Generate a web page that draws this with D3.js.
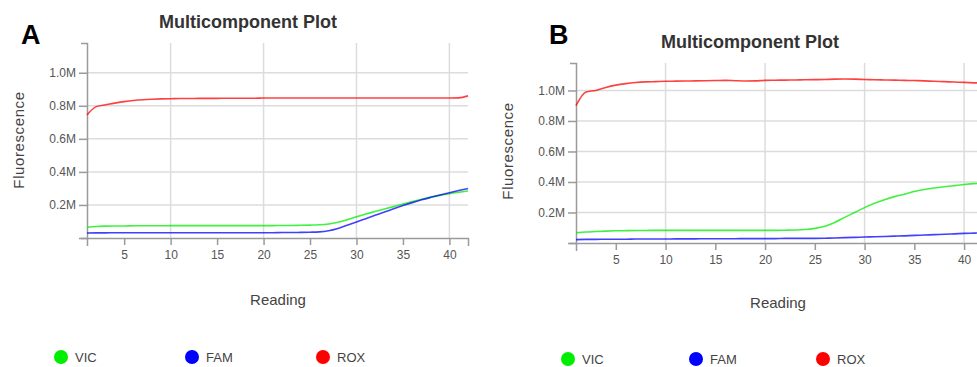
<!DOCTYPE html>
<html>
<head>
<meta charset="utf-8">
<script src="https://cdn.jsdelivr.net/npm/d3@7"></script>
<style>
  body { margin: 0; background: #fff; }
  svg { font-family: "Liberation Sans", Arial, sans-serif; }
  .grid line { stroke: #dcdcdc; stroke-width: 1.5; }
  .axis path, .axis line { stroke: #9a9a9a; stroke-width: 1.5; }
  .axis text { fill: #555; font-size: 12px; }
  .axisLabel { fill: #444; font-size: 15px; }
  .title { fill: #333; font-size: 18px; font-weight: bold; }
  .panelLetter { fill: #000; font-size: 27px; font-weight: bold; }
  .legend text { fill: #444; font-size: 13px; }
</style>
</head>
<body>
<div id="chart"></div>
<script>

// DATA

const readings = d3.range(1, 43);   // reading 1 .. 42
const dyes = ["VIC", "FAM", "ROX"];
const dyeColors = ["#00ee00", "#0000ff", "#ff0000"];
const yTicks = [0, 200000, 400000, 600000, 800000, 1000000];
const xTicks = [5, 10, 15, 20, 25, 30, 35, 40];
const xGrid = [10, 20, 30, 40];

// panel A
const vicA = [0.065,0.070,0.072,0.073,0.073,0.074,0.074,0.074,0.074,0.075,0.075,0.075,0.075,0.075,0.075,0.075,0.075,0.075,0.075,0.075,
              0.075,0.076,0.076,0.077,0.078,0.080,0.085,0.095,0.110,0.128,0.145,0.160,0.175,0.190,0.205,0.220,0.235,0.248,0.258,0.268,0.277,0.284];
const famA = [0.030,0.031,0.031,0.032,0.032,0.032,0.032,0.032,0.032,0.032,0.032,0.032,0.032,0.032,0.032,0.032,0.032,0.032,0.032,0.032,
              0.032,0.033,0.033,0.034,0.035,0.037,0.044,0.058,0.077,0.097,0.117,0.137,0.157,0.177,0.196,0.214,0.231,0.246,0.260,0.274,0.287,0.299];
const roxA = [0.745,0.795,0.806,0.816,0.825,0.832,0.837,0.840,0.842,0.843,0.844,0.844,0.845,0.845,0.845,0.846,0.846,0.846,0.846,0.847,
              0.847,0.847,0.847,0.847,0.847,0.847,0.847,0.847,0.847,0.847,0.847,0.847,0.847,0.847,0.847,0.847,0.847,0.847,0.847,0.847,0.848,0.860];

// panel B
const vicB = [0.067,0.072,0.075,0.078,0.080,0.081,0.082,0.082,0.083,0.083,0.083,0.083,0.083,0.083,0.083,0.083,0.083,0.083,0.083,0.083,
              0.083,0.084,0.085,0.088,0.096,0.110,0.135,0.168,0.200,0.232,0.260,0.284,0.304,0.320,0.338,0.351,0.361,0.369,0.376,0.383,0.389,0.393];
const famB = [0.022,0.024,0.024,0.025,0.025,0.025,0.026,0.026,0.026,0.026,0.027,0.027,0.027,0.028,0.028,0.028,0.028,0.029,0.029,0.029,
              0.029,0.030,0.030,0.030,0.030,0.031,0.033,0.035,0.037,0.039,0.041,0.043,0.045,0.047,0.050,0.052,0.055,0.057,0.060,0.063,0.065,0.067];
const roxB = [0.900,0.990,1.000,1.020,1.035,1.045,1.052,1.056,1.058,1.060,1.061,1.062,1.063,1.064,1.065,1.066,1.064,1.062,1.063,1.066,
              1.067,1.068,1.069,1.070,1.071,1.072,1.074,1.075,1.074,1.072,1.070,1.069,1.068,1.066,1.065,1.063,1.060,1.058,1.055,1.053,1.050,1.048];

// SVG

const svg = d3.select("#chart")
    .append("svg")
    .attr("width", 977)
    .attr("height", 367);

function drawPanel(p) {

    const g = svg.append("g");

    const xScale = d3.scaleLinear()
        .domain([1, 42])
        .range([p.left, p.right]);

    const yScale = d3.scaleLinear()
        .domain([0, 1180000])
        .range([p.bottom, p.top]);

    // gridlines
    const grid = g.append("g").attr("class", "grid");
    grid.selectAll(".h")
        .data(yTicks.slice(1))
        .enter()
        .append("line")
            .attr("x1", p.left)
            .attr("x2", p.right)
            .attr("y1", d => yScale(d))
            .attr("y2", d => yScale(d));
    grid.selectAll(".v")
        .data(xGrid)
        .enter()
        .append("line")
            .attr("x1", d => xScale(d))
            .attr("x2", d => xScale(d))
            .attr("y1", p.top)
            .attr("y2", p.bottom);

    // axes
    g.append("g")
        .attr("class", "axis")
        .attr("transform", `translate(0,${p.bottom})`)
        .call(d3.axisBottom(xScale).tickValues(xTicks).tickSize(7).tickSizeOuter(8).tickPadding(5));

    g.append("g")
        .attr("class", "axis")
        .attr("transform", `translate(${p.left},0)`)
        .call(d3.axisLeft(yScale).tickValues(yTicks).tickSize(8).tickSizeOuter(6).tickPadding(3)
            .tickFormat(d => d === 0 ? "" : d3.format(".1f")(d / 1e6) + "M"));

    // lines
    const line = d3.line()
        .x((d, i) => xScale(readings[i]))
        .y(d => yScale(d * 1e6))
        .curve(d3.curveMonotoneX);

    p.series.forEach(function(s, i) {
        g.append("path")
            .datum(s)
            .attr("fill", "none")
            .attr("stroke", dyeColors[i])
            .attr("stroke-opacity", 0.75)
            .attr("stroke-width", 1.6)
            .attr("d", line);
    });

    // texts
    g.append("text")
        .attr("class", "title")
        .attr("x", p.titleX)
        .attr("y", p.titleY)
        .attr("text-anchor", "middle")
        .text("Multicomponent Plot");

    g.append("text")
        .attr("class", "panelLetter")
        .attr("x", p.letterX)
        .attr("y", p.letterY)
        .text(p.letter);

    g.append("text")
        .attr("class", "axisLabel")
        .attr("x", p.readX)
        .attr("y", p.readY)
        .attr("text-anchor", "middle")
        .text("Reading");

    g.append("text")
        .attr("class", "axisLabel")
        .attr("transform", `translate(${p.fluX},${p.fluY})rotate(-90)`)
        .attr("text-anchor", "middle")
        .attr("font-size", "16px")
        .style("letter-spacing", "0.6px")
        .text("Fluorescence");

    // legend
    const leg = g.append("g").attr("class", "legend")
        .selectAll("g")
        .data(dyes)
        .enter()
        .append("g")
            .attr("transform", (d, i) => `translate(${p.legX[i]},${p.legY})`);

    leg.append("circle")
        .attr("r", 7)
        .attr("fill", (d, i) => dyeColors[i]);

    leg.append("text")
        .attr("x", 14)
        .attr("y", 5)
        .text(d => d);
}

drawPanel({
    letter: "A", letterX: 21, letterY: 44,
    left: 87, right: 468, top: 43, bottom: 238,
    titleX: 248, titleY: 28,
    readX: 278, readY: 305,
    fluX: 24, fluY: 140,
    legX: [61, 192, 323], legY: 357,
    series: [vicA, famA, roxA]
});

drawPanel({
    letter: "B", letterX: 549, letterY: 44,
    left: 576, right: 984, top: 63, bottom: 243,
    titleX: 750, titleY: 48,
    readX: 778, readY: 308,
    fluX: 513, fluY: 151,
    legX: [568, 696, 823], legY: 359,
    series: [vicB, famB, roxB]
});

</script>
</body>
</html>
